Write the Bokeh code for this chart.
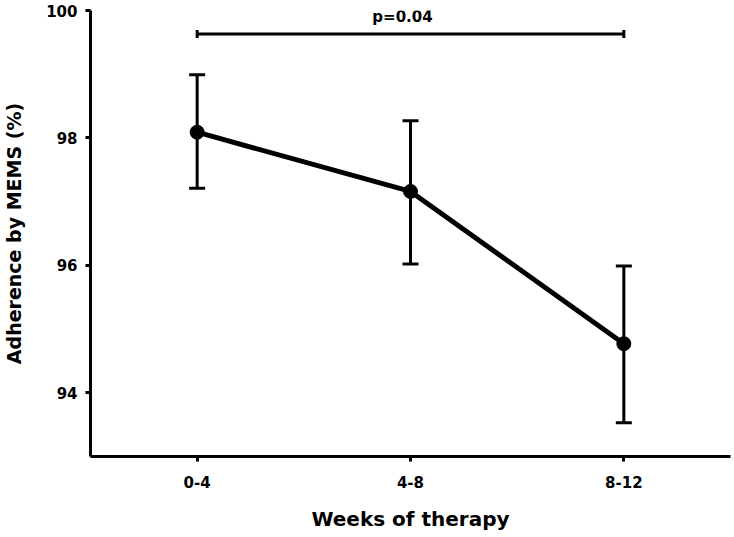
from bokeh.plotting import figure
from bokeh.models import FixedTicker, Whisker, TeeHead, ColumnDataSource, Range1d, Label
from bokeh.embed import file_html
from bokeh.resources import INLINE

categories = ["0-4", "4-8", "8-12"]
means = [98.09, 97.16, 94.77]
upper = [98.99, 98.27, 95.99]
lower = [97.21, 96.02, 93.53]
sig_level = 99.63
sig_label = "p=0.04"

xs = list(range(len(categories)))
src = ColumnDataSource(dict(x=xs, y=means, up=upper, lo=lower))

p = figure(width=732, height=533, output_backend="svg", toolbar_location=None,
           x_range=Range1d(-0.5, 2.5), y_range=Range1d(93, 100),
           min_border_left=82, min_border_right=2, min_border_top=10, min_border_bottom=75)
p.outline_line_color = None
p.grid.visible = False

FONT = "DejaVu Sans"
for ax in (p.xaxis[0], p.yaxis[0]):
    ax.axis_line_width = 3
    ax.axis_line_color = "black"
    ax.major_tick_line_width = 3
    ax.major_tick_out = 5
    ax.major_tick_in = 0
    ax.minor_tick_line_color = None
    ax.major_label_text_font = FONT
    ax.major_label_text_font_style = "bold"
    ax.major_label_text_font_size = "15px"
    ax.major_label_text_color = "black"
    ax.axis_label_text_font = FONT
    ax.axis_label_text_font_style = "bold"
    ax.axis_label_text_color = "black"

p.xaxis.ticker = FixedTicker(ticks=xs)
p.xaxis.major_label_overrides = {i: c for i, c in enumerate(categories)}
p.xaxis.axis_label = "Weeks of therapy"
p.xaxis.axis_label_text_font_size = "20px"
p.xaxis.major_label_standoff = 14
p.xaxis.axis_label_standoff = 16

p.yaxis.ticker = FixedTicker(ticks=[94, 96, 98, 100])
p.yaxis.axis_label = "Adherence by MEMS (%)"
p.yaxis.axis_label_text_font_size = "19px"
p.yaxis.major_label_standoff = 8
p.yaxis.axis_label_standoff = 18

w = Whisker(source=src, base="x", upper="up", lower="lo", line_width=3, line_color="black",
            upper_head=TeeHead(size=16, line_width=3, line_color="black"),
            lower_head=TeeHead(size=16, line_width=3, line_color="black"))
p.add_layout(w)

p.line("x", "y", source=src, line_width=5, line_color="black")
p.scatter("x", "y", source=src, size=14, color="black")

sig_src = ColumnDataSource(dict(b=[sig_level], lo=[xs[0]], up=[xs[-1]]))
sw = Whisker(source=sig_src, base="b", lower="lo", upper="up", dimension="width",
             line_width=3, line_color="black",
             upper_head=TeeHead(size=8, line_width=3, line_color="black"),
             lower_head=TeeHead(size=8, line_width=3, line_color="black"))
p.add_layout(sw)
p.add_layout(Label(x=(xs[0] + xs[-1]) / 2, y=sig_level, text=sig_label, text_align="center",
                   text_baseline="bottom", y_offset=8, x_offset=-8, text_font=FONT,
                   text_font_style="bold", text_font_size="15px", text_color="black"))

open("out.html", "w").write(file_html(p, INLINE))
